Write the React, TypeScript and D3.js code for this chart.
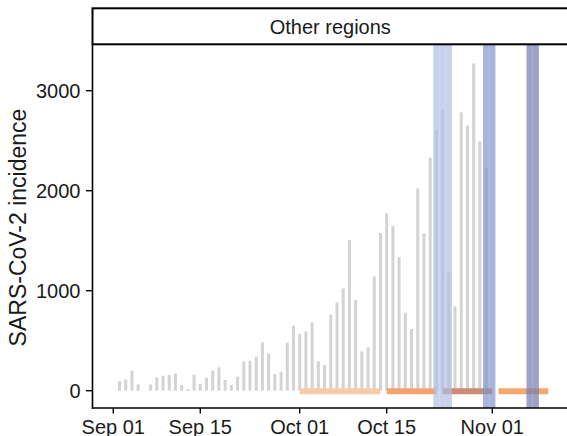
import React from "react";
import * as d3 from "d3";

// Daily reported incidence, 2 Sep – 31 Oct
const dates: string[] = [
  "2020-09-02", "2020-09-03", "2020-09-04", "2020-09-05", "2020-09-06", "2020-09-07",
  "2020-09-08", "2020-09-09", "2020-09-10", "2020-09-11", "2020-09-12", "2020-09-13",
  "2020-09-14", "2020-09-15", "2020-09-16", "2020-09-17", "2020-09-18", "2020-09-19",
  "2020-09-20", "2020-09-21", "2020-09-22", "2020-09-23", "2020-09-24", "2020-09-25",
  "2020-09-26", "2020-09-27", "2020-09-28", "2020-09-29", "2020-09-30", "2020-10-01",
  "2020-10-02", "2020-10-03", "2020-10-04", "2020-10-05", "2020-10-06", "2020-10-07",
  "2020-10-08", "2020-10-09", "2020-10-10", "2020-10-11", "2020-10-12", "2020-10-13",
  "2020-10-14", "2020-10-15", "2020-10-16", "2020-10-17", "2020-10-18", "2020-10-19",
  "2020-10-20", "2020-10-21", "2020-10-22", "2020-10-23", "2020-10-24", "2020-10-25",
  "2020-10-26", "2020-10-27", "2020-10-28", "2020-10-29", "2020-10-30", "2020-10-31",
];
const incidence: number[] = [
  95, 112, 200, 62, 0, 62,
  135, 150, 157, 173, 57, 17,
  160, 67, 130, 200, 233, 107,
  57, 140, 293, 300, 340, 483,
  373, 167, 190, 480, 650, 567,
  593, 683, 293, 257, 760, 883,
  1023, 1507, 907, 393, 433, 1143,
  1577, 1773, 1647, 1333, 780, 617,
  2023, 1573, 2330, 2607, 2810, 1183,
  843, 2783, 2650, 3273, 2493, 2233,
];

// Shaded day windows
const bandDays: string[][] = [
  ["2020-10-23", "2020-10-24", "2020-10-25"],
  ["2020-10-31", "2020-11-01"],
  ["2020-11-07", "2020-11-08"],
];
const bandColors: string[] = ["#b0bfe4", "#8394cd", "#747ab5"];

// Period spans along the baseline
const periodStart: string[] = ["2020-10-01", "2020-10-15", "2020-10-24", "2020-11-02"];
const periodEnd: string[] = ["2020-10-14", "2020-10-23", "2020-11-01", "2020-11-10"];
const periodColors: string[] = ["#f8cba6", "#f3a46e", "#cc8b74", "#f5a76d"];

const xTicks: string[] = ["2020-09-01", "2020-09-15", "2020-10-01", "2020-10-15", "2020-11-01"];
const xTickLabels: string[] = ["Sep 01", "Sep 15", "Oct 01", "Oct 15", "Nov 01"];
const yTicks: number[] = [0, 1000, 2000, 3000];

const W = 567;
const H = 436;
const panel = { left: 92.5, right: 568, top: 44.5, bottom: 408 };
const DAY = 86400000;
const parse = (s: string) => new Date(s + "T00:00:00Z");
const FONT = "'Liberation Sans', Arial, Helvetica, sans-serif";

export default function App() {
  const x = d3
    .scaleUtc()
    .domain([parse("2020-09-01"), parse("2020-11-01")])
    .range([113.3, 492.3]);
  const y = d3.scaleLinear().domain([0, 3000]).range([390.7, 90.7]);

  const dayW = x(parse("2020-09-02")) - x(parse("2020-09-01"));
  const barW = dayW * 0.48;
  const halfDay = (s: string, sign: number) => x(new Date(parse(s).getTime() + (sign * DAY) / 2));

  return (
    <svg
      width={W}
      height={H}
      style={{ position: "absolute", left: 0, top: 0, background: "#fff" }}
      fontFamily={FONT}
    >
      <defs>
        <clipPath id="panel-clip">
          <rect
            x={panel.left}
            y={panel.top}
            width={panel.right - panel.left}
            height={panel.bottom - panel.top}
          />
        </clipPath>
      </defs>

      <g clipPath="url(#panel-clip)">
        {/* daily bars */}
        {dates.map((d, i) => {
          const v = incidence[i];
          if (v <= 0) return null;
          return (
            <rect
              key={d}
              x={x(parse(d)) - barW / 2}
              y={y(v)}
              width={barW}
              height={y(0) - y(v)}
              fill="#d3d3d3"
            />
          );
        })}

        {/* period spans */}
        {periodStart.map((s, i) => (
          <line
            key={s}
            x1={x(parse(s))}
            x2={x(parse(periodEnd[i]))}
            y1={y(0) + 0.6}
            y2={y(0) + 0.6}
            stroke={periodColors[i]}
            strokeWidth={6}
          />
        ))}

        {/* shaded windows */}
        {bandDays.map((days, bi) =>
          days.map((d) => (
            <rect
              key={d}
              x={halfDay(d, -1)}
              y={panel.top}
              width={halfDay(d, 1) - halfDay(d, -1)}
              height={panel.bottom - panel.top}
              fill={bandColors[bi]}
              fillOpacity={0.7}
            />
          ))
        )}
      </g>

      {/* facet strip */}
      <rect
        x={panel.left}
        y={8.3}
        width={panel.right - panel.left + 5}
        height={36}
        fill="#fff"
        stroke="#000"
        strokeWidth={2}
      />
      <text
        x={(panel.left + panel.right) / 2}
        y={26.5}
        dy="0.35em"
        textAnchor="middle"
        fontSize={20}
        fill="#1a1a1a"
      >
        Other regions
      </text>

      {/* y axis */}
      <line
        x1={panel.left}
        x2={panel.left}
        y1={panel.top}
        y2={panel.bottom + 0.75}
        stroke="#000"
        strokeWidth={1.6}
      />
      {yTicks.map((t) => (
        <g key={t}>
          <line x1={86} x2={panel.left} y1={y(t)} y2={y(t)} stroke="#000" strokeWidth={1.4} />
          <text x={80.5} y={y(t)} dy="0.36em" textAnchor="end" fontSize={20} fill="#1a1a1a">
            {t}
          </text>
        </g>
      ))}
      <text
        transform={`translate(25.5, 227.5) rotate(-90)`}
        textAnchor="middle"
        fontSize={23}
        fill="#1a1a1a"
      >
        SARS-CoV-2 incidence
      </text>

      {/* x axis */}
      <line
        x1={panel.left - 0.75}
        x2={panel.right}
        y1={panel.bottom}
        y2={panel.bottom}
        stroke="#000"
        strokeWidth={1.6}
      />
      {xTicks.map((t, i) => (
        <g key={t}>
          <line
            x1={x(parse(t))}
            x2={x(parse(t))}
            y1={panel.bottom}
            y2={panel.bottom + 5.5}
            stroke="#000"
            strokeWidth={1.4}
          />
          <text x={x(parse(t))} y={433.5} textAnchor="middle" fontSize={20} fill="#1a1a1a">
            {xTickLabels[i]}
          </text>
        </g>
      ))}
    </svg>
  );
}
